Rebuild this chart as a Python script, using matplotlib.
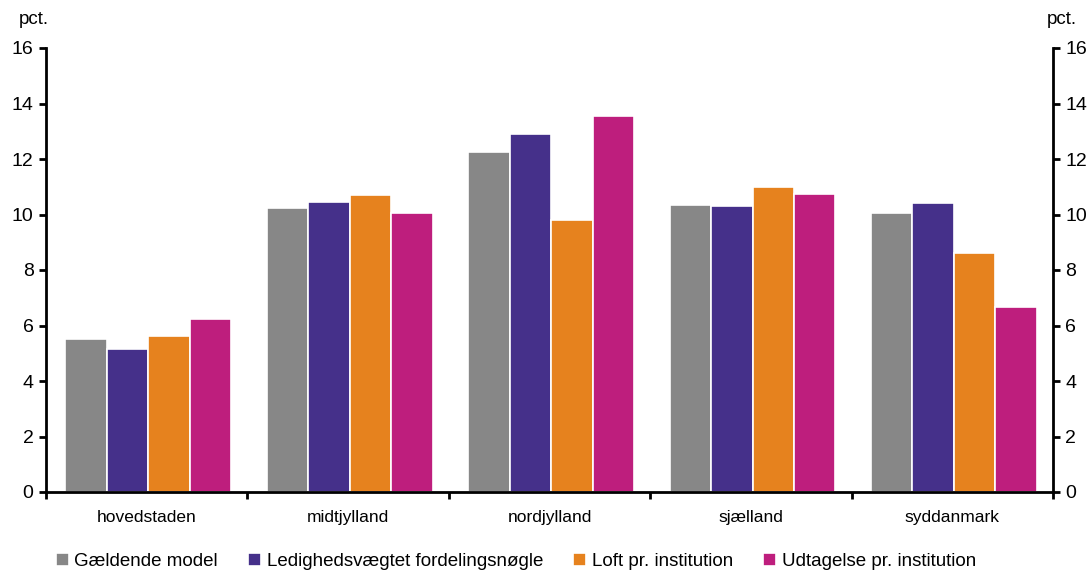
import numpy as np
import matplotlib
matplotlib.use("Agg")
import matplotlib.pyplot as plt

plt.rcParams["font.family"] = ["Liberation Sans", "DejaVu Sans"]

regions = ["hovedstaden", "midtjylland", "nordjylland", "sjælland", "syddanmark"]
series = ["Gældende model", "Ledighedsvægtet fordelingsnøgle",
          "Loft pr. institution", "Udtagelse pr. institution"]
gaeldende = [5.50, 10.22, 12.24, 10.34, 10.05]
ledighed = [5.16, 10.44, 12.89, 10.31, 10.41]
loft = [5.62, 10.69, 9.80, 10.99, 8.61]
udtagelse = [6.22, 10.04, 13.54, 10.74, 6.67]
colors = ["#878787", "#45308A", "#E6821E", "#BE1E7D"]

fig = plt.figure(figsize=(10.92, 5.70), dpi=100)
ax = fig.add_axes([46 / 1092, 78 / 570, 1007 / 1092, 444 / 570])

x = np.arange(len(regions))
w = 0.206
for i, (vals, col, lab) in enumerate(zip([gaeldende, ledighed, loft, udtagelse], colors, series)):
    ax.bar(x + (i - 1.5) * w + 0.008, vals, width=w, color=col, edgecolor="white",
           linewidth=1.2, label=lab)

ax.set_xlim(-0.5, len(regions) - 0.5)
ax.set_ylim(0, 16)
ax.set_yticks(range(0, 17, 2))
ax.set_xticks(x)
ax.set_xticklabels(regions)
ax.set_xticks(np.arange(-0.5, len(regions), 1), minor=True)
ax.tick_params(axis="x", which="major", length=0, pad=13, labelsize=12.5)
ax.tick_params(axis="x", which="minor", length=5, width=2, direction="out")
ax.tick_params(axis="y", length=5, width=2, labelsize=14, pad=4)
for s in ["top", "right"]:
    ax.spines[s].set_visible(False)
ax.spines["left"].set_linewidth(2)
ax.spines["bottom"].set_linewidth(2)

ax2 = ax.twinx()
ax2.set_ylim(0, 16)
ax2.set_yticks(range(0, 17, 2))
ax2.tick_params(axis="y", length=5, width=2, labelsize=14, pad=4)
for s in ["top", "left", "bottom"]:
    ax2.spines[s].set_visible(False)
ax2.spines["right"].set_linewidth(2)

fig.text(34 / 1092, 1 - 20 / 570, "pct.", ha="center", va="center", fontsize=13.5)
fig.text(1062 / 1092, 1 - 20 / 570, "pct.", ha="center", va="center", fontsize=13.5)

fig.legend(loc="lower center", bbox_to_anchor=(516 / 1092, -0.03), ncol=4, frameon=False,
           fontsize=13.5, handlelength=0.7, handleheight=0.7, handletextpad=0.3,
           columnspacing=1.6)

fig.savefig("out.png", dpi=100)
